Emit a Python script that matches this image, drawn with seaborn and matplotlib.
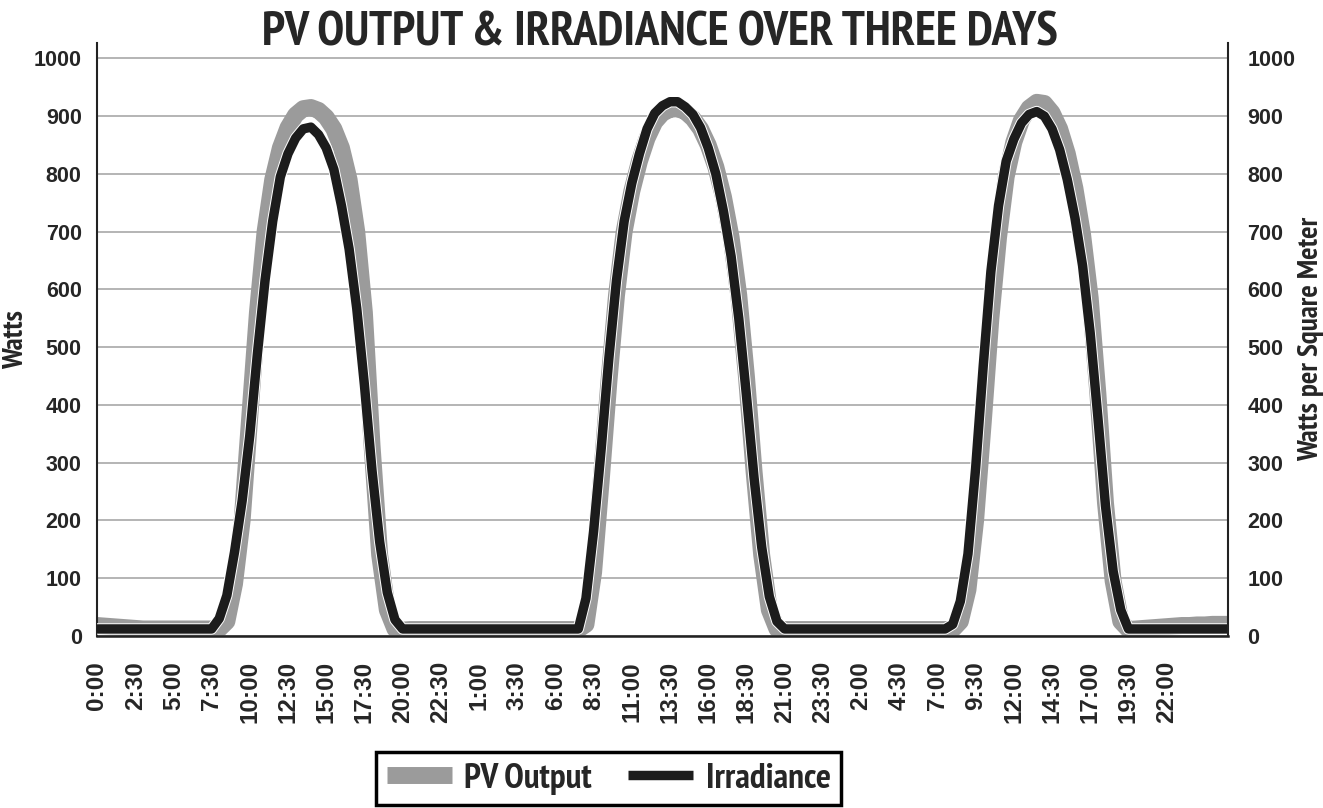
import numpy as np
import pandas as pd
import seaborn as sns
import matplotlib.pyplot as plt
from matplotlib import patheffects as pe
from matplotlib import font_manager as fm

sns.set_style("white")
plt.rcParams['font.family'] = ['Liberation Sans', 'DejaVu Sans']
plt.rcParams['font.weight'] = 'bold'

# pick a condensed bold face for title / axis labels / legend
bold_static = set()
for f in fm.fontManager.ttflist:
    try:
        w = int(f.weight)
    except (TypeError, ValueError):
        w = 700 if 'bold' in str(f.weight) else 400
    if w >= 700 and f.style == 'normal' and '[' not in f.fname:
        bold_static.add(f.name)
cands = ['Liberation Sans Narrow', 'Arial Narrow', 'Archivo Narrow', 'PT Sans Narrow',
         'Roboto Condensed', 'Fira Sans Condensed', 'Barlow Condensed', 'IBM Plex Sans Condensed',
         'Open Sans Condensed', 'Encode Sans Condensed', 'Sofia Sans Condensed', 'Liberation Sans']
narrow_name = next(c for c in cands if c in bold_static or c == 'Liberation Sans')
NARROW = [narrow_name, 'DejaVu Sans']

# samples every half hour, 0:00 day 1 .. 2:00 day 4
hours = np.arange(0, 74.5, 0.5)

# irradiance (W/m2)
irradiance = [
    # 0:00 - 7:30
    12, 12, 12, 12, 12, 12, 12, 12, 12, 12, 12, 12, 12, 12, 12, 12,
    # 8:00 - 20:00
    30, 70, 145, 234, 347, 489, 616, 718, 795, 835, 862, 878, 881,
    868, 845, 808, 745, 670, 567, 435, 286, 163, 75, 28, 12,
    # 20:30 - 7:30
    12, 12, 12, 12, 12, 12, 12, 12, 12, 12, 12, 12, 12, 12, 12, 12,
    12, 12, 12, 12, 12, 12, 12,
    # 8:00 - 21:00
    65, 181, 325, 481, 616, 718, 784, 835, 878, 905, 918, 925, 925,
    916, 903, 880, 845, 800, 735, 657, 550, 417, 274, 154, 68, 25, 12,
    # 21:30 - 7:30
    12, 12, 12, 12, 12, 12, 12, 12, 12, 12, 12, 12, 12, 12, 12, 12,
    12, 12, 12, 12, 12,
    # 8:00 - 19:30
    20, 60, 142, 290, 468, 631, 745, 822, 860, 888, 903, 908,
    900, 878, 842, 790, 724, 641, 524, 379, 225, 112, 45, 12,
    # 20:00 - 2:00
    12, 12, 12, 12, 12, 12, 12, 12, 12, 12, 12, 12, 12,
]

# PV output (W)
pv_output = [
    # 0:00 - 7:30
    18, 17, 16, 15, 14, 13, 12, 12, 12, 12, 12, 12, 12, 12, 12, 12,
    # 8:00 - 20:00
    12, 25, 90, 200, 380, 560, 700, 790, 845, 880, 902, 913, 915,
    910, 898, 878, 845, 790, 700, 560, 330, 140, 45, 12, 10,
    # 20:30 - 7:30
    11, 11, 11, 11, 11, 11, 11, 11, 11, 11, 11, 11, 11, 11, 11, 11,
    11, 11, 11, 11, 11, 11, 11,
    # 8:00 - 21:00
    20, 110, 270, 440, 590, 700, 770, 822, 862, 890, 905, 912, 913,
    908, 896, 878, 850, 812, 760, 690, 590, 450, 285, 140, 45, 12, 11,
    # 21:30 - 7:30
    11, 11, 11, 11, 11, 11, 11, 11, 11, 11, 11, 11, 11, 11, 11, 11,
    11, 11, 11, 11, 11,
    # 8:00 - 19:30
    11, 25, 80, 200, 370, 550, 690, 795, 855, 893, 914, 924,
    922, 906, 878, 835, 775, 695, 585, 420, 230, 95, 25, 11,
    # 20:00 - 2:00
    12, 13, 14, 15, 16, 17, 18, 18, 19, 19, 20, 20, 20,
]

tick_hours = np.arange(0, 71, 2.5)
tick_labels = ['0:00', '2:30', '5:00', '7:30', '10:00', '12:30', '15:00', '17:30',
               '20:00', '22:30', '1:00', '3:30', '6:00', '8:30', '11:00', '13:30',
               '16:00', '18:30', '21:00', '23:30', '2:00', '4:30', '7:00', '9:30',
               '12:00', '14:30', '17:00', '19:30', '22:00']
y_ticks = list(range(0, 1001, 100))

df = pd.DataFrame({'hour': hours, 'PV Output': pv_output, 'Irradiance': irradiance})

fig = plt.figure(figsize=(13.23, 8.08), dpi=100)
ax = fig.add_axes([0.0733, 0.213, 0.8547, 0.734])

sns.lineplot(data=df, x='hour', y='PV Output', ax=ax, color='#9b9b9b', lw=12.2,
             solid_joinstyle='round', solid_capstyle='butt')
ax2 = ax.twinx()
sns.lineplot(data=df, x='hour', y='Irradiance', ax=ax2, color='#1c1c1c', lw=6.8,
             solid_joinstyle='round', solid_capstyle='butt',
             path_effects=[pe.Stroke(linewidth=8.2, foreground='white'), pe.Normal()])

for a in (ax, ax2):
    a.set_xlim(0, 74)
    a.set_ylim(0, 1027)
    a.set_yticks(y_ticks)
    a.spines['top'].set_visible(False)

ax.grid(axis='y', color='#a8a8a8', lw=1.2)
ax.grid(axis='x', visible=False)
ax2.grid(False)

ax.set_xticks(tick_hours, tick_labels, rotation=90, fontsize=17.5, fontweight='bold')
ax.tick_params(axis='x', length=12, width=1.2, color='#222222', direction='out', pad=6)
ax.tick_params(axis='y', length=0, pad=11, labelsize=15.5)
ax2.tick_params(axis='y', length=0, pad=14, labelsize=15.5)

ax.spines['right'].set_visible(False)
ax.spines['left'].set_color('#222222')
ax.spines['left'].set_linewidth(1.5)
ax.spines['bottom'].set_color('#222222')
ax2.spines['left'].set_visible(False)
ax2.spines['right'].set_color('#222222')
ax2.spines['right'].set_linewidth(1.5)
ax2.spines['bottom'].set_color('#222222')
ax2.spines['bottom'].set_linewidth(1.8)

ax.set_xlabel('')
ax.set_ylabel('Watts', family=NARROW, fontsize=21, fontweight='bold', labelpad=3)
ax2.set_ylabel('Watts per Square Meter', family=NARROW, fontsize=21, fontweight='bold', labelpad=2)

fig.text(0.499, 1 - 45 / 808, 'PV OUTPUT & IRRADIANCE OVER THREE DAYS', ha='center', va='baseline',
         family=NARROW, fontsize=35, fontweight='bold')

pv_line = ax.get_lines()[0]
irr_line = ax2.get_lines()[0]
leg = fig.legend([pv_line, irr_line], ['PV Output', 'Irradiance'], loc='upper center',
                 bbox_to_anchor=(0.46, 1 - 752 / 808), ncol=2, frameon=True, fancybox=False,
                 edgecolor='black', framealpha=1, handlelength=1.85, handletextpad=0.35,
                 columnspacing=1.0, borderpad=0.3, borderaxespad=0,
                 prop={'family': NARROW, 'weight': 'bold', 'size': 25.5})
leg.get_frame().set_linewidth(2.5)

fig.savefig('out.png', dpi=100)
